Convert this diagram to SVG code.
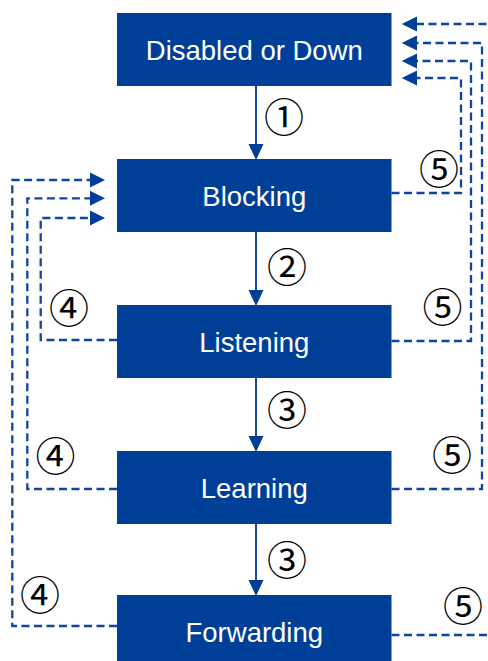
<svg xmlns="http://www.w3.org/2000/svg" width="488" height="661" viewBox="0 0 488 661">
<defs>
<style>
.box{fill:#003F98}
.lbl{font-family:"Liberation Sans",Arial,sans-serif;font-size:27.5px;fill:#fff;text-anchor:middle}
.num{font-family:"Noto Sans CJK JP","DejaVu Sans",sans-serif;font-size:40px;fill:#000;text-anchor:middle;dominant-baseline:central}
.solid{stroke:#1A4A9C;stroke-width:2;fill:none}
.dash{stroke:#0E45A0;stroke-width:2.3;fill:none;stroke-dasharray:8 4.5}
.head{fill:#003F98}
</style>
</defs>
<rect width="488" height="661" fill="#fff"/>
<g id="connectors">
<line class="solid" x1="256" y1="86" x2="256" y2="146"/>
<polygon class="head" points="248.5,144 263.5,144 256,160"/>
<line class="solid" x1="256" y1="232" x2="256" y2="292"/>
<polygon class="head" points="248.5,290 263.5,290 256,306"/>
<line class="solid" x1="256" y1="378" x2="256" y2="438"/>
<polygon class="head" points="248.5,436 263.5,436 256,452"/>
<line class="solid" x1="256" y1="524" x2="256" y2="582"/>
<polygon class="head" points="248.5,580 263.5,580 256,596"/>
<polyline class="dash" points="391.5,193 461,193 461,78 416,78"/>
<polyline class="dash" points="391.5,341 471,341 471,61 416,61"/>
<polyline class="dash" points="391.5,489 482,489 482,43 416,43"/>
<polyline class="dash" points="391.5,635 496,635 496,24 416,24"/>
<polygon class="head" points="401.7,78 417,70.5 417,85.5"/>
<polygon class="head" points="401.7,61 417,53.5 417,68.5"/>
<polygon class="head" points="401.7,43 417,35.5 417,50.5"/>
<polygon class="head" points="401.7,24 417,16.5 417,31.5"/>
<polyline class="dash" points="117,340 40.7,340 40.7,218 91,218"/>
<polyline class="dash" points="117,489 27.3,489 27.3,198.3 91,198.3"/>
<polyline class="dash" points="117,626 12.3,626 12.3,180 91,180"/>
<polygon class="head" points="105,218 90,210.5 90,225.5"/>
<polygon class="head" points="105,198.3 90,190.8 90,205.8"/>
<polygon class="head" points="105,180 90,172.5 90,187.5"/>
</g>
<g id="node-disabled"><rect class="box" x="117" y="13" width="274.5" height="73"/><text class="lbl" x="254.3" y="59.5">Disabled or Down</text></g>
<g id="node-blocking"><rect class="box" x="117" y="159" width="274.5" height="73"/><text class="lbl" x="254.3" y="205.5">Blocking</text></g>
<g id="node-listening"><rect class="box" x="117" y="305" width="274.5" height="73"/><text class="lbl" x="254.3" y="351.5">Listening</text></g>
<g id="node-learning"><rect class="box" x="117" y="451" width="274.5" height="73"/><text class="lbl" x="254.3" y="497.5">Learning</text></g>
<g id="node-forwarding"><rect class="box" x="117" y="595" width="274.5" height="73"/><text class="lbl" x="254.3" y="641.5">Forwarding</text></g>
<g id="labels">
<text class="num" x="284" y="115">①</text>
<text class="num" x="287" y="265">②</text>
<text class="num" x="287" y="408">③</text>
<text class="num" x="287" y="558">③</text>
<text class="num" x="69" y="306">④</text>
<text class="num" x="55.5" y="454">④</text>
<text class="num" x="40" y="593">④</text>
<text class="num" x="439" y="167">⑤</text>
<text class="num" x="442.5" y="305">⑤</text>
<text class="num" x="452" y="452.5">⑤</text>
<text class="num" x="463" y="604">⑤</text>
</g>
</svg>
